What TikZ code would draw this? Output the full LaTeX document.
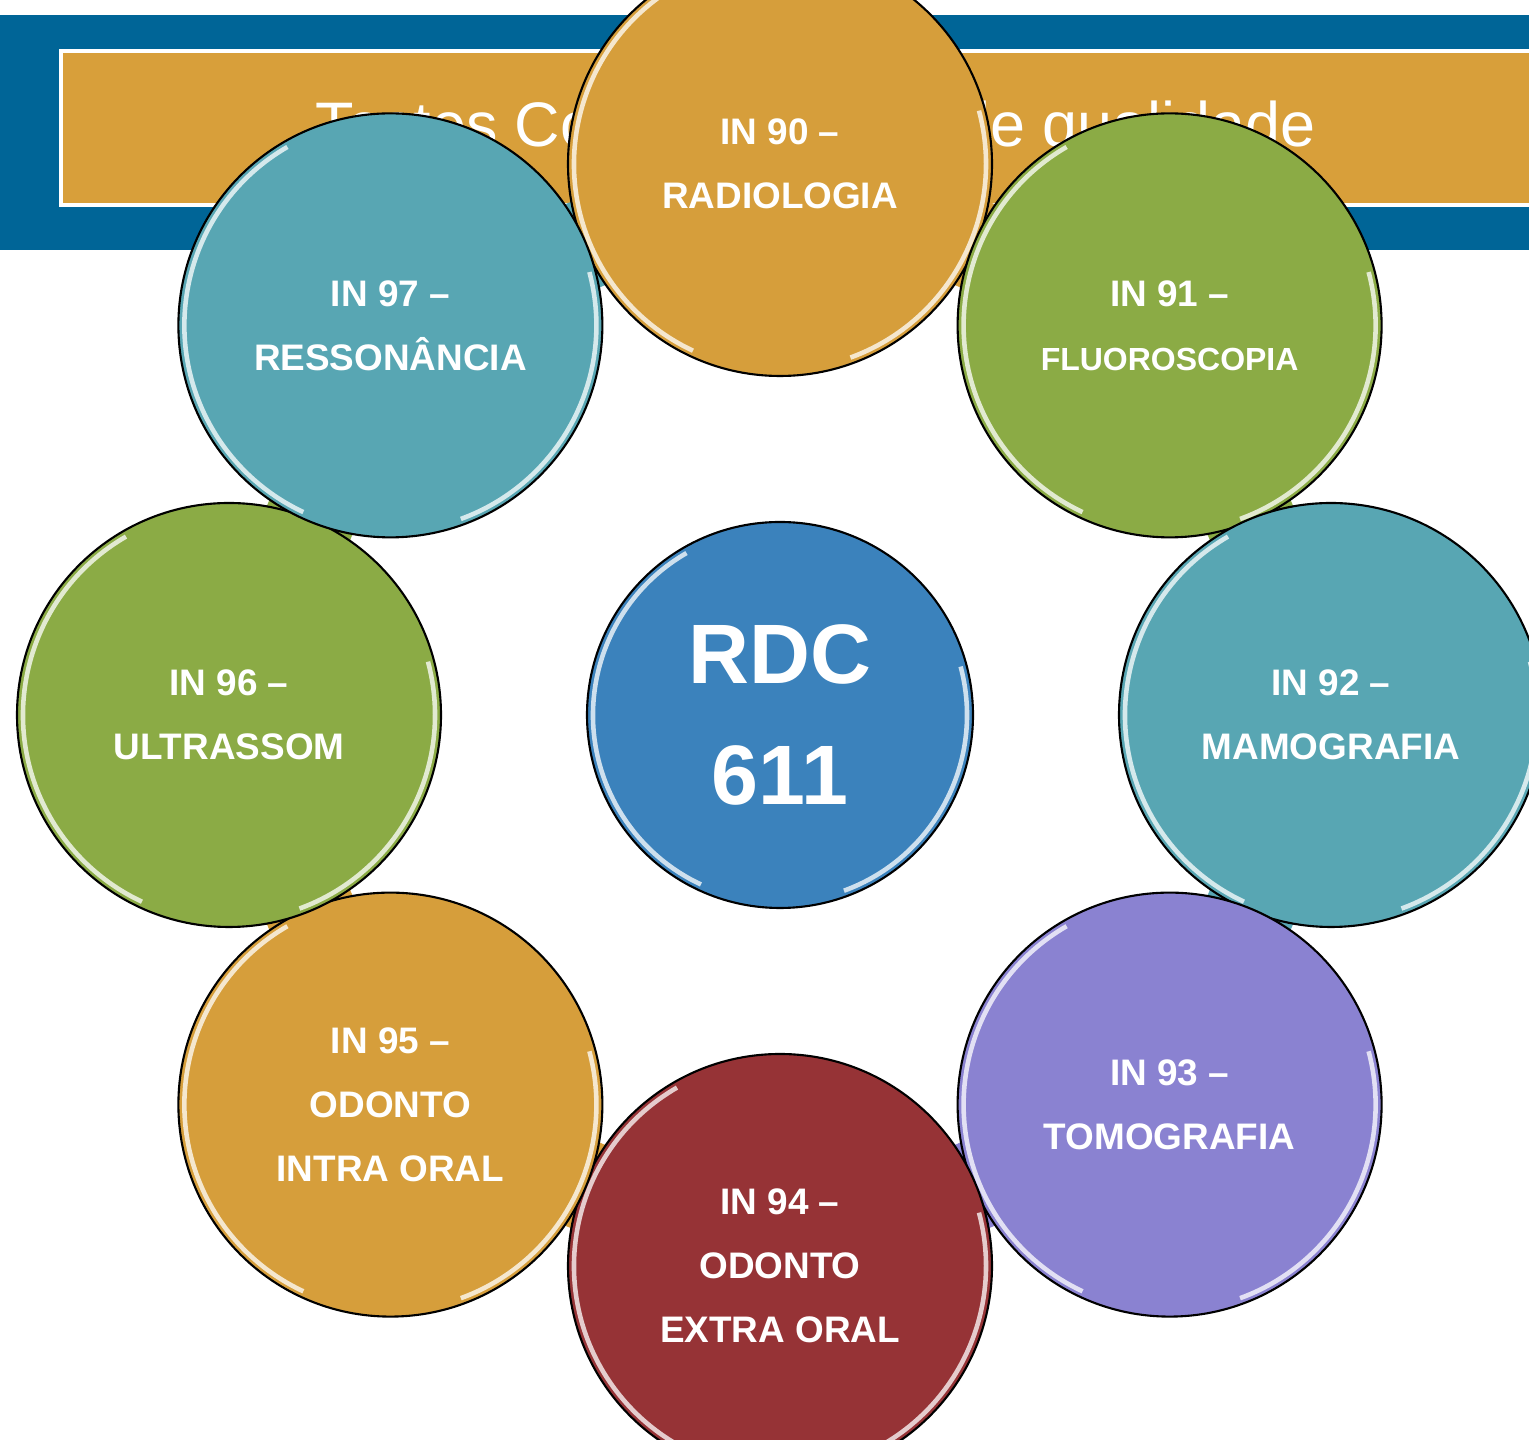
\documentclass[tikz,border=0pt]{standalone}
\usepackage{fontspec}
\setmainfont{Liberation Sans}
\usetikzlibrary{calc}
\definecolor{headblue}{HTML}{006597}
\definecolor{headorange}{HTML}{D89F3A}
\definecolor{bubbleorange}{HTML}{D69E3B}
\definecolor{bubblegreen}{HTML}{8BAB45}
\definecolor{bubbleteal}{HTML}{58A6B3}
\definecolor{bubblepurple}{HTML}{8A82D1}
\definecolor{bubblered}{HTML}{963336}
\definecolor{hubblue}{HTML}{3B82BC}
\pgfdeclarelayer{back}
\pgfdeclarelayer{links}
\pgfsetlayers{back,links,main}
\tikzset{
  bubble/.style={circle,draw=black,line width=0.6pt,text=white,align=center,minimum size=4.24cm,inner sep=0pt,font=\bfseries\fontsize{10.5}{18.2}\selectfont},
  hubbubble/.style={bubble,minimum size=3.86cm,font=\bfseries\fontsize{24}{34.4}\selectfont},
  ringlink/.style={line width=0.9cm},
  titletext/.style={text=white,inner sep=0pt,font=\fontsize{17.9}{20}\selectfont}
}
% light rim on the left and lower right of a bubble
\newcommand{\gloss}[3]{%
  \draw[#2!25!white,line width=1.3pt] ([shift={(120:#3)}]#1.center) arc[start angle=120,end angle=245,radius=#3];
  \draw[#2!25!white,line width=1.3pt] ([shift={(-70:#3)}]#1.center) arc[start angle=-70,end angle=15,radius=#3];
}

\begin{document}
\begin{tikzpicture}
  \useasboundingbox (0,0) rectangle (15.29,14.40);
  \begin{pgfonlayer}{back}
    \fill[headblue] (0,11.90) rectangle (15.29,14.25);
    \draw[fill=headorange,draw=white,line width=1.2pt] (0.61,12.35) rectangle (15.60,13.89);
    \node[titletext,anchor=base west] (title) at (3.15,12.93) {Testes Complementos de qualidade};
  \end{pgfonlayer}

  \node[hubbubble,fill=hubblue] (rdc) at (7.80,7.25) {RDC\\611};
  \node[bubble,fill=bubbleorange] (in90) at ($(rdc)+(90:5.51)$) {IN 90 –\\RADIOLOGIA};
  \node[bubble,fill=bubblegreen] (in91) at ($(rdc)+(45:5.51)$) {IN 91 –\\{\fontsize{9.1}{18.2}\selectfont FLUOROSCOPIA}};
  \node[bubble,fill=bubbleteal] (in92) at ($(rdc)+(0:5.51)$) {IN 92 –\\MAMOGRAFIA};
  \node[bubble,fill=bubblepurple] (in93) at ($(rdc)+(-45:5.51)$) {IN 93 –\\TOMOGRAFIA};
  \node[bubble,fill=bubblered] (in94) at ($(rdc)+(-90:5.51)$) {IN 94 –\\ODONTO\\EXTRA ORAL};
  \node[bubble,fill=bubbleorange] (in95) at ($(rdc)+(-135:5.51)$) {IN 95 –\\ODONTO\\INTRA ORAL};
  \node[bubble,fill=bubblegreen] (in96) at ($(rdc)+(180:5.51)$) {IN 96 –\\ULTRASSOM};
  \node[bubble,fill=bubbleteal] (in97) at ($(rdc)+(135:5.51)$) {IN 97 –\\RESSONÂNCIA};

  \begin{pgfonlayer}{links}
    \draw[ringlink,bubbleorange] (in90.center) -- (in91.center);
    \draw[ringlink,bubblegreen] (in91.center) -- (in92.center);
    \draw[ringlink,bubbleteal] (in92.center) -- (in93.center);
    \draw[ringlink,bubblepurple] (in93.center) -- (in94.center);
    \draw[ringlink,bubbleorange] (in95.center) -- (in94.center);
    \draw[ringlink,bubbleorange] (in95.center) -- (in96.center);
    \draw[ringlink,bubblegreen] (in96.center) -- (in97.center);
    \draw[ringlink,bubbleteal] (in97.center) -- (in90.center);
  \end{pgfonlayer}

  \gloss{rdc}{hubblue}{1.87}
  \gloss{in90}{bubbleorange}{2.06}
  \gloss{in91}{bubblegreen}{2.06}
  \gloss{in92}{bubbleteal}{2.06}
  \gloss{in93}{bubblepurple}{2.06}
  \gloss{in94}{bubblered}{2.06}
  \gloss{in95}{bubbleorange}{2.06}
  \gloss{in96}{bubblegreen}{2.06}
  \gloss{in97}{bubbleteal}{2.06}
\end{tikzpicture}
\end{document}
